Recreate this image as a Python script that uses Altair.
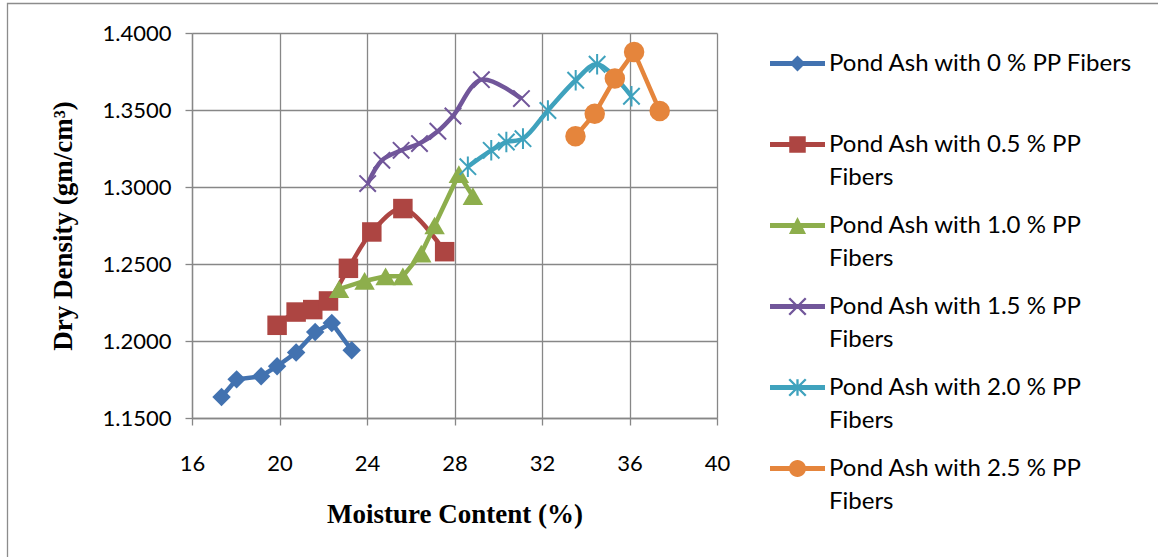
import altair as alt
import pandas as pd

# ---------------- data ----------------
series_names = [
    "Pond Ash with 0 % PP Fibers",
    "Pond Ash with 0.5 % PP Fibers",
    "Pond Ash with 1.0 % PP Fibers",
    "Pond Ash with 1.5 % PP Fibers",
    "Pond Ash with 2.0 % PP Fibers",
    "Pond Ash with 2.5 % PP Fibers",
]
mc_00 = [17.35, 18.04, 19.16, 19.89, 20.76, 21.63, 22.39, 23.30]
dd_00 = [1.1636, 1.1751, 1.1771, 1.1836, 1.1925, 1.2058, 1.2117, 1.1940]
mc_05 = [19.89, 20.76, 21.52, 22.24, 23.15, 24.22, 25.64, 27.55]
dd_05 = [1.2102, 1.2188, 1.2204, 1.2260, 1.2472, 1.2708, 1.2860, 1.2580]
mc_10 = [22.72, 23.89, 24.85, 25.64, 26.48, 27.09, 28.20, 28.84]
dd_10 = [1.2337, 1.2390, 1.2420, 1.2420, 1.2568, 1.2750, 1.3083, 1.2940]
mc_15 = [24.03, 24.68, 25.56, 26.40, 27.24, 27.93, 29.23, 31.06]
dd_15 = [1.3022, 1.3173, 1.3238, 1.3282, 1.3362, 1.3461, 1.3697, 1.3574]
mc_20 = [28.61, 29.68, 30.37, 31.13, 32.27, 33.54, 34.52, 36.09]
dd_20 = [1.3132, 1.3238, 1.3292, 1.3314, 1.3497, 1.3693, 1.3797, 1.3589]
mc_25 = [33.53, 34.41, 35.33, 36.21, 37.38]
dd_25 = [1.3329, 1.3476, 1.3704, 1.3877, 1.3494]

x_ticks = [16, 20, 24, 28, 32, 36, 40]
y_ticks = [1.15, 1.20, 1.25, 1.30, 1.35, 1.40]

moisture = [mc_00, mc_05, mc_10, mc_15, mc_20, mc_25]
density = [dd_00, dd_05, dd_10, dd_15, dd_20, dd_25]

# ---------------- styles ----------------
colors = ["#4272B0", "#AD4542", "#8DAE4C", "#71569A", "#3FA2BD", "#E5853C"]
interp = ["linear", "catmull-rom", "linear", "catmull-rom", "catmull-rom", "linear"]
X_PATH = "M-1,-1L1,1M-1,1L1,-1"
AST_PATH = "M-1,-1L1,1M-1,1L1,-1M0,-1.25L0,1.25"
marker_shape = ["diamond", "square", "triangle-up", X_PATH, AST_PATH, "circle"]
marker_size = [340, 380, 420, 270, 270, 420]
marker_filled = [True, True, True, False, False, True]

GRID = "#878787"
SANS = "Lato"
SERIF = "Liberation Serif"

# legend symbols: line + marker as one filled custom path (unit coords)
S = 0.0
H = 0.09


def f(v):
    return f"{v:.3f}"


def line_part():
    return f"M-1,{f(S-H)}H1V{f(S+H)}H-1Z"


def diamond(b=0.29):
    return f"M0,{f(S-b)}L{f(b)},{f(S)}L0,{f(S+b)}L{f(-b)},{f(S)}Z"


def square(b=0.3):
    return f"M{f(-b)},{f(S-b)}H{f(b)}V{f(S+b)}H{f(-b)}Z"


def triangle(b=0.31):
    return f"M0,{f(S-b)}L{f(b)},{f(S+b)}L{f(-b)},{f(S+b)}Z"


def xcross(a=0.3, e=0.03):
    p1 = f"M{f(-a+e)},{f(S-a-e)}L{f(a+e)},{f(S+a-e)}L{f(a-e)},{f(S+a+e)}L{f(-a-e)},{f(S-a+e)}Z"
    p2 = f"M{f(-a-e)},{f(S+a-e)}L{f(a-e)},{f(S-a-e)}L{f(a+e)},{f(S-a+e)}L{f(-a+e)},{f(S+a+e)}Z"
    return p1 + p2


def asterisk(a=0.3, e=0.03):
    v = f"M{f(-e*1.4)},{f(S-a)}H{f(e*1.4)}V{f(S+a)}H{f(-e*1.4)}Z"
    return xcross(a, e) + v


def circle(r=0.31):
    return (f"M{f(-r)},{f(S)}A{f(r)},{f(r)} 0 1,1 {f(r)},{f(S)}"
            f"A{f(r)},{f(r)} 0 1,1 {f(-r)},{f(S)}Z")


legend_paths = [line_part() + diamond(), line_part() + square(), line_part() + triangle(),
                line_part() + xcross(), line_part() + asterisk(), line_part() + circle()]

# ---------------- encodings ----------------
x_enc = alt.X(
    "mc:Q",
    scale=alt.Scale(domain=[16, 40], nice=False, zero=False),
    axis=alt.Axis(
        values=x_ticks, title="Moisture Content (%)", format="d", labelFlush=False,
        grid=True, gridColor=GRID, gridWidth=1.3,
        domainColor=GRID, domainWidth=1.3, tickColor=GRID, tickWidth=1.3, tickSize=7,
        labelFont=SANS, labelFontSize=22, labelColor="#000000", labelPadding=28,
        titleFont=SERIF, titleFontSize=27, titleFontWeight="bold", titleColor="#000000",
        titleBaseline="alphabetic", titleY=104,
    ),
)
y_enc = alt.Y(
    "dd:Q",
    scale=alt.Scale(domain=[1.15, 1.40], nice=False, zero=False),
    axis=alt.Axis(
        values=y_ticks, title="Dry Density (gm/cm³)", format=".4f", labelFlush=False,
        grid=True, gridColor=GRID, gridWidth=1.3,
        domainColor=GRID, domainWidth=1.3, tickColor=GRID, tickWidth=1.3, tickSize=7,
        labelFont=SANS, labelFontSize=22, labelColor="#000000", labelPadding=14,
        titleFont=SERIF, titleFontSize=27, titleFontWeight="bold", titleColor="#000000",
        titleBaseline="alphabetic", titleX=-121, titleAngle=270,
    ),
)

layers = []

# frame around the whole chart area (decorative)
frame = alt.Chart(pd.DataFrame({"k": [0]})).mark_rect(
    fillOpacity=0, stroke="#8C8C8C", strokeWidth=1.3
).encode(
    x=alt.value(-184.5), x2=alt.value(1000), y=alt.value(-29.5), y2=alt.value(560)
)
layers.append(frame)

frames = []
for i, name in enumerate(series_names):
    df = pd.DataFrame({"mc": moisture[i], "dd": density[i], "series": name})
    frames.append(df)
    line = alt.Chart(df).mark_line(
        color=colors[i], strokeWidth=4.5, interpolate=interp[i]
    ).encode(x=x_enc, y=y_enc)
    if marker_filled[i]:
        pts = alt.Chart(df).mark_point(
            shape=marker_shape[i], size=marker_size[i], filled=True,
            color=colors[i], opacity=1
        ).encode(x=x_enc, y=y_enc)
    else:
        pts = alt.Chart(df).mark_point(
            shape=marker_shape[i], size=marker_size[i], filled=False,
            color=colors[i], strokeWidth=2, opacity=1
        ).encode(x=x_enc, y=y_enc)
    layers += [line, pts]

all_df = pd.concat(frames, ignore_index=True)

legend = alt.Legend(
    title=None, orient="none", legendX=578, legendY=3, padding=0,
    symbolSize=3025, symbolStrokeWidth=0, symbolOpacity=1,
    labelFont=SANS, labelFontSize=24, labelColor="#000000", labelLimit=600,
    labelOffset=4, rowPadding=8,
    labelExpr="length(datum.label) > 27 ? [replace(datum.label, ' Fibers', ''), 'Fibers'] : [datum.label, ' ']",
)

legend_layer = alt.Chart(all_df).mark_point(filled=True, opacity=0).encode(
    x=x_enc, y=y_enc,
    color=alt.Color("series:N", scale=alt.Scale(domain=series_names, range=colors), legend=legend),
    shape=alt.Shape("series:N", scale=alt.Scale(domain=series_names, range=legend_paths), legend=legend),
)
layers.append(legend_layer)

chart = alt.layer(*layers).properties(
    width=525, height=385,
    autosize=alt.AutoSizeParams(type="none"),
    padding={"left": 192, "top": 33, "right": 441, "bottom": 139},
).configure(
    background="#FFFFFF",
    style={"guide-label": {"lineHeight": 33}},
).configure_view(stroke=None)

chart.save("out.html", embed_options={"renderer": "svg", "actions": False})
